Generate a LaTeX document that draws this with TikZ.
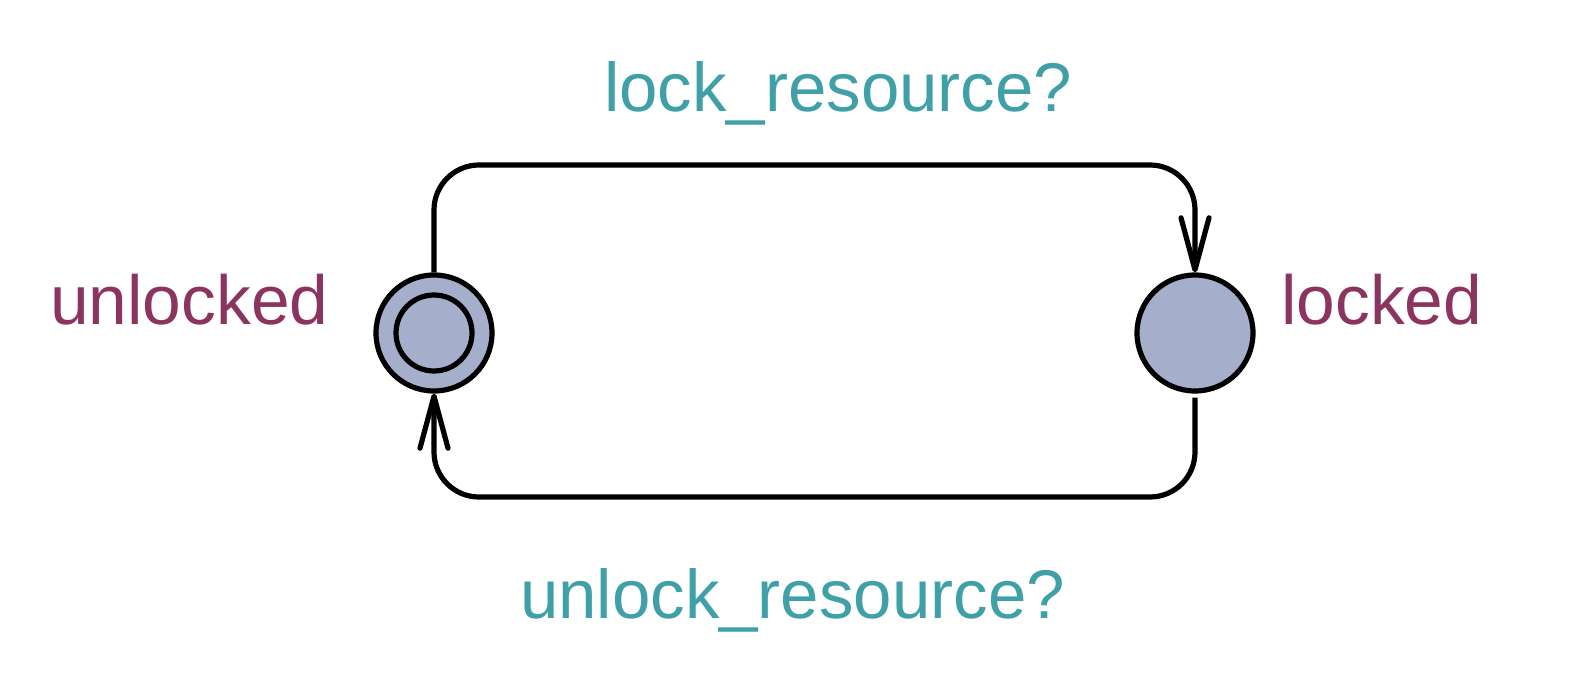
\documentclass[tikz,border=0pt]{standalone}
\usepackage{fontspec}
\setmainfont{Liberation Sans}
\usetikzlibrary{arrows.meta}
\definecolor{locfill}{RGB}{165,174,203}
\definecolor{locname}{RGB}{140,52,96}
\definecolor{synccol}{RGB}{64,160,168}
\tikzset{
  loc/.style={circle,draw=black,line width=5.2pt,fill=locfill,minimum size=116pt,inner sep=0pt},
  lname/.style={text=locname,font=\fontsize{69.5}{80}\selectfont,inner sep=0pt,anchor=base west},
  sname/.style={text=synccol,font=\fontsize{69}{80}\selectfont,inner sep=0pt,anchor=base west},
  edge/.style={line width=5.2pt,rounded corners=45pt,-{Straight Barb[length=52pt,width=28pt,line width=5.2pt,round]}}
}
\begin{document}
\begin{tikzpicture}[x=1pt,y=-1pt]
\useasboundingbox (0,0) rectangle (1588,698);
\node[loc] (unlocked) at (434,333) {};
\node[circle,draw=black,line width=5.2pt,minimum size=76pt,inner sep=0pt] (unlockedin) at (unlocked.center) {};
\node[loc] (locked) at (1195,333) {};
\coordinate (tl) at (434,165);
\coordinate (tr) at (1195,165);
\coordinate (bl) at (434,497);
\coordinate (br) at (1195,497);
\draw[edge] (unlocked.north) -- (tl) -- (tr) -- (locked.north);
\draw[edge] ([yshift=-4pt]locked.south) -- (br) -- (bl) -- (unlocked.south);
\node[lname] (nunlocked) at (50,324) {unlocked};
\node[lname] (nlocked) at (1281,324) {locked};
\node[sname] (slock) at (604,111.5) {lock\_resource?};
\node[sname] (sunlock) at (520,618) {unlock\_resource?};
\end{tikzpicture}
\end{document}
